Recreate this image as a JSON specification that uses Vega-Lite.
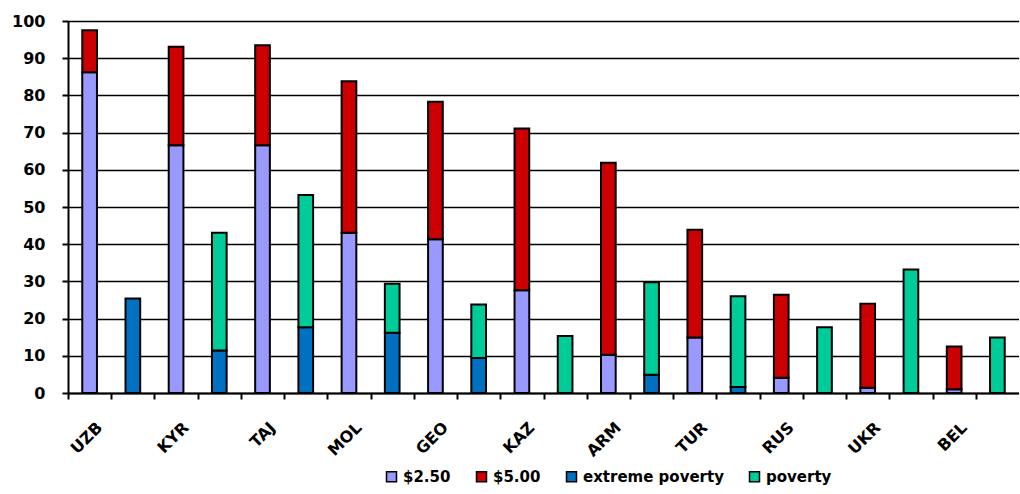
{
  "$schema": "https://vega.github.io/schema/vega-lite/v6.json",
  "width": 951,
  "height": 372,
  "padding": {"left": 11, "top": 13, "right": 0, "bottom": 0},
  "background": "white",
  "config": {
    "view": {"stroke": null}
  },
  "data": {
    "values": [
      {"bar": "UZB", "seg": "$2.50", "v": 86.2, "o": 1},
      {"bar": "UZB", "seg": "$5.00", "v": 11.3, "o": 2},
      {"bar": "UZB_p", "seg": "extreme poverty", "v": 25.4, "o": 1},
      {"bar": "KYR", "seg": "$2.50", "v": 66.6, "o": 1},
      {"bar": "KYR", "seg": "$5.00", "v": 26.5, "o": 2},
      {"bar": "KYR_p", "seg": "extreme poverty", "v": 11.4, "o": 1},
      {"bar": "KYR_p", "seg": "poverty", "v": 31.7, "o": 2},
      {"bar": "TAJ", "seg": "$2.50", "v": 66.6, "o": 1},
      {"bar": "TAJ", "seg": "$5.00", "v": 26.9, "o": 2},
      {"bar": "TAJ_p", "seg": "extreme poverty", "v": 17.7, "o": 1},
      {"bar": "TAJ_p", "seg": "poverty", "v": 35.5, "o": 2},
      {"bar": "MOL", "seg": "$2.50", "v": 43.1, "o": 1},
      {"bar": "MOL", "seg": "$5.00", "v": 40.7, "o": 2},
      {"bar": "MOL_p", "seg": "extreme poverty", "v": 16.2, "o": 1},
      {"bar": "MOL_p", "seg": "poverty", "v": 13.2, "o": 2},
      {"bar": "GEO", "seg": "$2.50", "v": 41.3, "o": 1},
      {"bar": "GEO", "seg": "$5.00", "v": 37.0, "o": 2},
      {"bar": "GEO_p", "seg": "extreme poverty", "v": 9.4, "o": 1},
      {"bar": "GEO_p", "seg": "poverty", "v": 14.4, "o": 2},
      {"bar": "KAZ", "seg": "$2.50", "v": 27.6, "o": 1},
      {"bar": "KAZ", "seg": "$5.00", "v": 43.5, "o": 2},
      {"bar": "KAZ_p", "seg": "poverty", "v": 15.3, "o": 2},
      {"bar": "ARM", "seg": "$2.50", "v": 10.3, "o": 1},
      {"bar": "ARM", "seg": "$5.00", "v": 51.6, "o": 2},
      {"bar": "ARM_p", "seg": "extreme poverty", "v": 4.9, "o": 1},
      {"bar": "ARM_p", "seg": "poverty", "v": 24.9, "o": 2},
      {"bar": "TUR", "seg": "$2.50", "v": 14.9, "o": 1},
      {"bar": "TUR", "seg": "$5.00", "v": 29.0, "o": 2},
      {"bar": "TUR_p", "seg": "extreme poverty", "v": 1.6, "o": 1},
      {"bar": "TUR_p", "seg": "poverty", "v": 24.4, "o": 2},
      {"bar": "RUS", "seg": "$2.50", "v": 4.1, "o": 1},
      {"bar": "RUS", "seg": "$5.00", "v": 22.3, "o": 2},
      {"bar": "RUS_p", "seg": "poverty", "v": 17.7, "o": 2},
      {"bar": "UKR", "seg": "$2.50", "v": 1.4, "o": 1},
      {"bar": "UKR", "seg": "$5.00", "v": 22.6, "o": 2},
      {"bar": "UKR_p", "seg": "poverty", "v": 33.2, "o": 2},
      {"bar": "BEL", "seg": "$2.50", "v": 1.0, "o": 1},
      {"bar": "BEL", "seg": "$5.00", "v": 11.5, "o": 2},
      {"bar": "BEL_p", "seg": "poverty", "v": 14.9, "o": 2}
    ]
  },
  "mark": {"type": "bar", "stroke": "black", "strokeWidth": 2},
  "encoding": {
    "x": {
      "field": "bar",
      "type": "nominal",
      "scale": {
        "domain": ["UZB", "UZB_p", "KYR", "KYR_p", "TAJ", "TAJ_p", "MOL", "MOL_p", "GEO", "GEO_p", "KAZ", "KAZ_p", "ARM", "ARM_p", "TUR", "TUR_p", "RUS", "RUS_p", "UKR", "UKR_p", "BEL", "BEL_p"],
        "paddingInner": 0.66,
        "paddingOuter": 0.33
      },
      "axis": {
        "title": null,
        "labelExpr": "indexof(datum.value, '_') >= 0 ? '' : datum.value",
        "labelAngle": -45,
        "labelAlign": "right",
        "labelBaseline": "top",
        "labelPadding": 20,
        "tickOffset": -21.6,
        "labelOffset": 25.6,
        "labelFont": "DejaVu Sans",
        "labelFontWeight": "bold",
        "labelFontSize": 16,
        "labelColor": "black",
        "tickSize": 6,
        "tickWidth": 2,
        "tickColor": "black",
        "domainColor": "black",
        "domainWidth": 2,
        "grid": false,
        "labelOverlap": false
      }
    },
    "y": {
      "field": "v",
      "type": "quantitative",
      "stack": "zero",
      "scale": {"domain": [0, 100], "nice": false},
      "axis": {
        "title": null,
        "values": [0, 10, 20, 30, 40, 50, 60, 70, 80, 90, 100],
        "labelFont": "DejaVu Sans",
        "labelFontWeight": "bold",
        "labelFontSize": 16,
        "labelColor": "black",
        "labelPadding": 17,
        "tickSize": 6,
        "tickWidth": 2,
        "tickColor": "black",
        "domainColor": "black",
        "domainWidth": 2,
        "grid": true,
        "gridColor": "black",
        "gridWidth": 1.5,
        "gridOpacity": 1
      }
    },
    "color": {
      "field": "seg",
      "type": "nominal",
      "scale": {
        "domain": ["$2.50", "$5.00", "extreme poverty", "poverty"],
        "range": ["#9999FF", "#CC0000", "#0070C0", "#00CC99"]
      },
      "legend": {
        "title": null,
        "orient": "none",
        "legendX": 316,
        "legendY": 448,
        "direction": "horizontal",
        "columnPadding": 22,
        "symbolType": "square",
        "symbolStrokeColor": "black",
        "labelFont": "DejaVu Sans",
        "labelFontWeight": "bold",
        "labelFontSize": 15,
        "labelColor": "black"
      }
    },
    "order": {"field": "o", "type": "quantitative"}
  }
}
